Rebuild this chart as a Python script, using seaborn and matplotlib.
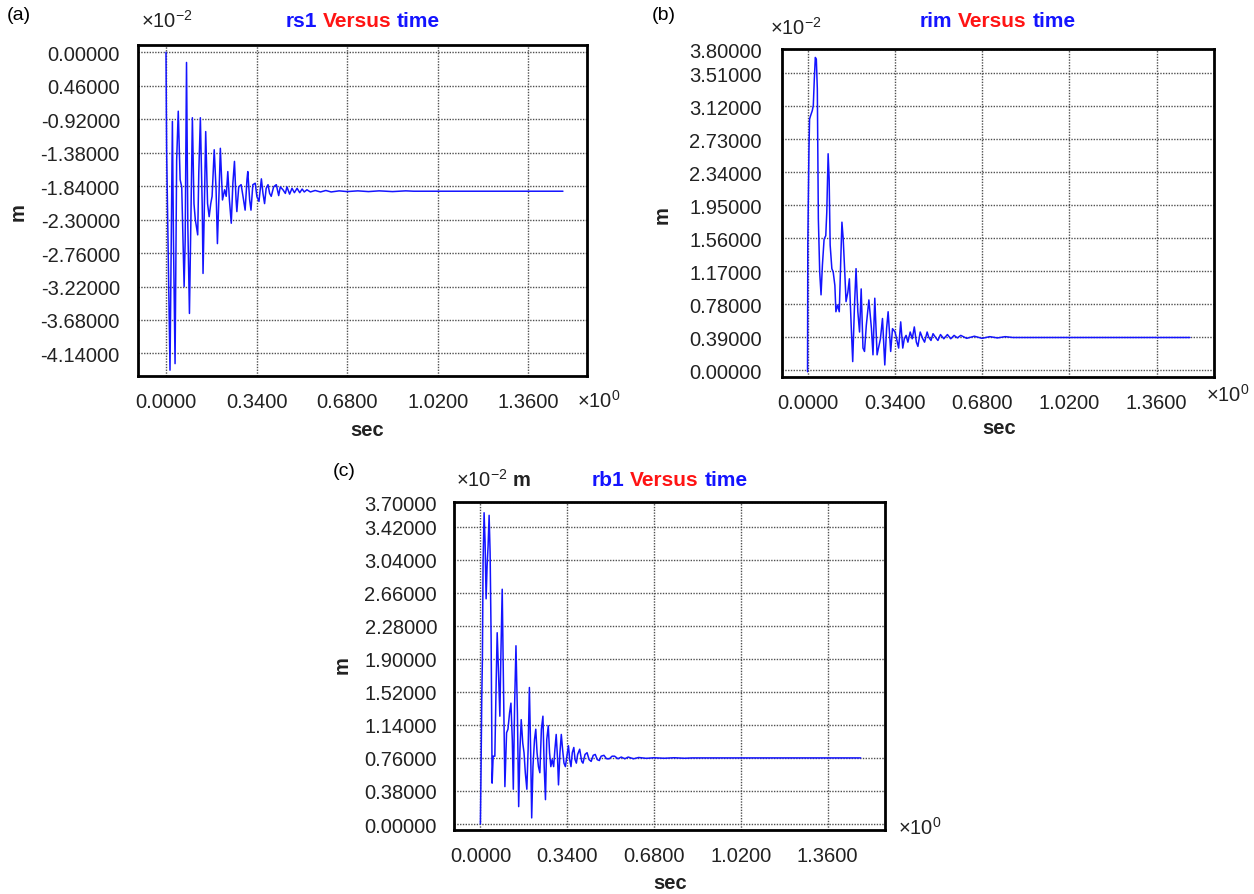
import matplotlib
matplotlib.use("Agg")
import matplotlib.pyplot as plt
import pandas as pd
import seaborn as sns

# ---------------- data ----------------
rs1_time = [0, 0.0013, 0.0025, 0.0075, 0.015, 0.024, 0.028, 0.034, 0.040, 0.046, 0.053, 0.059,
            0.068, 0.072, 0.077, 0.082, 0.088, 0.093, 0.099, 0.105, 0.110, 0.119, 0.123, 0.129,
            0.136, 0.139, 0.144, 0.149, 0.156, 0.162, 0.168, 0.173, 0.181, 0.188, 0.193, 0.199,
            0.204, 0.212, 0.220, 0.226, 0.232, 0.238, 0.245, 0.251, 0.257, 0.263, 0.266, 0.273,
            0.282, 0.289, 0.297, 0.304, 0.307, 0.314, 0.319, 0.326, 0.335, 0.341, 0.349, 0.358,
            0.364, 0.370, 0.376, 0.383, 0.389, 0.395, 0.404, 0.414, 0.423, 0.429, 0.439, 0.448,
            0.454, 0.464, 0.473, 0.482, 0.492, 0.502, 0.511, 0.519, 0.529, 0.542, 0.56, 0.58,
            0.60, 0.62, 0.65, 0.68, 0.72, 0.76, 0.80, 0.85, 0.90, 0.93, 1.49]
rs1_m = [0, -0.79, -1.39, -2.58, -4.37, -0.95, -2.58, -4.28, -1.48, -0.81, -1.75, -1.85,
         -3.22, -2.58, -0.14, -2.40, -3.59, -2.40, -0.90, -2.08, -2.30, -2.51, -1.66, -0.90,
         -2.12, -3.04, -2.12, -1.09, -2.08, -2.26, -2.08, -1.98, -1.34, -1.89, -2.63, -1.94,
         -1.32, -2.03, -1.89, -1.98, -1.64, -2.03, -2.35, -1.80, -1.50, -2.03, -2.19, -1.85,
         -1.82, -1.98, -2.17, -1.75, -1.64, -2.03, -2.17, -1.82, -1.80, -1.98, -2.05, -1.74,
         -1.94, -2.08, -1.87, -1.82, -1.94, -1.98, -1.85, -1.82, -1.97, -1.85, -1.89, -1.94,
         -1.85, -1.95, -1.87, -1.93, -1.87, -1.93, -1.88, -1.92, -1.89, -1.92, -1.90, -1.92,
         -1.90, -1.92, -1.905, -1.915, -1.905, -1.915, -1.905, -1.915, -1.905, -1.91, -1.91]

rim_time = [0, 0.001, 0.0053, 0.0079, 0.0118, 0.0184, 0.0224, 0.0263, 0.0303, 0.0342, 0.0381,
            0.0421, 0.0474, 0.0526, 0.0579, 0.0645, 0.0710, 0.0750, 0.0802, 0.0842, 0.0881,
            0.0947, 0.100, 0.1065, 0.1105, 0.117, 0.1236, 0.130, 0.134, 0.139, 0.145, 0.150,
            0.157, 0.163, 0.170, 0.176, 0.183, 0.189, 0.196, 0.2026, 0.209, 0.216, 0.222, 0.229,
            0.239, 0.249, 0.255, 0.262, 0.271, 0.284, 0.292, 0.301, 0.308, 0.314, 0.324, 0.331,
            0.341, 0.347, 0.355, 0.363, 0.371, 0.377, 0.384, 0.391, 0.400, 0.408, 0.416, 0.424,
            0.430, 0.439, 0.449, 0.456, 0.466, 0.472, 0.481, 0.489, 0.498, 0.508, 0.518, 0.531,
            0.545, 0.558, 0.571, 0.584, 0.597, 0.62, 0.65, 0.68, 0.71, 0.74, 0.77, 0.80, 1.49]
rim_m = [-0.02, 1.48, 2.58, 2.97, 3.01, 3.07, 3.13, 3.44, 3.70, 3.68, 3.33,
         1.79, 1.16, 0.89, 1.24, 1.55, 1.59, 1.87, 2.56, 2.26, 1.48,
         1.20, 1.16, 1.00, 0.69, 0.77, 0.69, 1.36, 1.75, 1.55, 1.16, 0.81,
         0.92, 1.08, 0.53, 0.10, 0.77, 1.20, 0.69, 0.45, 0.96, 0.26, 0.22, 0.53,
         0.83, 0.49, 0.18, 0.85, 0.18, 0.37, 0.61, 0.06, 0.49, 0.69, 0.22, 0.49,
         0.45, 0.37, 0.26, 0.57, 0.26, 0.37, 0.41, 0.33, 0.45, 0.37, 0.51, 0.33,
         0.28, 0.45, 0.37, 0.33, 0.45, 0.39, 0.35, 0.43, 0.39, 0.35, 0.42, 0.37,
         0.42, 0.37, 0.41, 0.38, 0.41, 0.375, 0.40, 0.375, 0.395, 0.38, 0.395, 0.385, 0.385]

rb1_time = [0, 0.0026, 0.0053, 0.0079, 0.0105, 0.0145, 0.0184, 0.0224, 0.0263, 0.0302, 0.0342,
            0.0381, 0.0421, 0.046, 0.050, 0.0566, 0.0618, 0.0658, 0.071, 0.0763, 0.0802, 0.0855,
            0.0894, 0.096, 0.1026, 0.108, 0.1144, 0.1197, 0.125, 0.129, 0.134, 0.1394, 0.145,
            0.150, 0.155, 0.160, 0.166, 0.171, 0.176, 0.182, 0.187, 0.192, 0.197, 0.201, 0.206,
            0.212, 0.217, 0.222, 0.2275, 0.233, 0.239, 0.245, 0.250, 0.255, 0.260, 0.266, 0.271,
            0.276, 0.281, 0.287, 0.292, 0.297, 0.3025, 0.306, 0.3117, 0.317, 0.322, 0.3275,
            0.333, 0.339, 0.345, 0.350, 0.355, 0.360, 0.366, 0.371, 0.376, 0.381, 0.389, 0.397,
            0.402, 0.410, 0.418, 0.426, 0.434, 0.442, 0.450, 0.458, 0.466, 0.473, 0.484, 0.4945,
            0.505, 0.516, 0.526, 0.539, 0.552, 0.566, 0.579, 0.60, 0.62, 0.65, 0.68, 0.72, 0.76,
            0.80, 0.83, 1.49]
rb1_m = [0, 0.63, 1.43, 1.89, 3.01, 3.58, 3.24, 2.59, 2.97, 3.20, 3.55,
         3.12, 2.12, 0.47, 0.78, 0.78, 1.63, 2.20, 1.74, 1.24, 1.93, 2.70,
         1.82, 0.43, 1.05, 1.09, 1.28, 1.39, 0.97, 0.40, 1.36, 2.05, 1.28,
         0.20, 0.86, 1.20, 0.93, 0.82, 0.59, 0.40, 0.86, 1.57, 0.82, 0.07, 0.66,
         0.97, 1.09, 0.82, 0.66, 0.59, 1.09, 1.24, 0.66, 0.28, 0.97, 1.13, 0.82,
         0.66, 0.74, 0.66, 0.86, 1.03, 0.74, 0.45, 0.82, 1.03, 0.86, 0.70,
         0.66, 0.78, 0.90, 0.74, 0.66, 0.82, 0.88, 0.74, 0.70, 0.80, 0.86, 0.72,
         0.70, 0.80, 0.82, 0.74, 0.72, 0.79, 0.80, 0.74, 0.73, 0.78, 0.79, 0.75,
         0.75, 0.78, 0.78, 0.75, 0.77, 0.75, 0.77, 0.75, 0.765, 0.755, 0.762, 0.756, 0.762,
         0.756, 0.76, 0.76]

x_ticks = [0.0, 0.34, 0.68, 1.02, 1.36]
x_tick_labels = ["0.0000", "0.3400", "0.6800", "1.0200", "1.3600"]

rs1_ticks = [0.0, -0.46, -0.92, -1.38, -1.84, -2.30, -2.76, -3.22, -3.68, -4.14]
rs1_tick_labels = ["0.00000", "0.46000", "-0.92000", "-1.38000", "-1.84000", "-2.30000",
                   "-2.76000", "-3.22000", "-3.68000", "-4.14000"]
rim_ticks = [0.0, 0.39, 0.78, 1.17, 1.56, 1.95, 2.34, 2.73, 3.12, 3.51, 3.80]
rim_tick_labels = ["0.00000", "0.39000", "0.78000", "1.17000", "1.56000", "1.95000",
                   "2.34000", "2.73000", "3.12000", "3.51000", "3.80000"]
rb1_ticks = [0.0, 0.38, 0.76, 1.14, 1.52, 1.90, 2.28, 2.66, 3.04, 3.42, 3.70]
rb1_tick_labels = ["0.00000", "0.38000", "0.76000", "1.14000", "1.52000", "1.90000",
                   "2.28000", "2.66000", "3.04000", "3.42000", "3.70000"]

# ---------------- style ----------------
sns.set_style("white")
plt.rcParams["font.family"] = ["Liberation Sans", "DejaVu Sans"]
plt.rcParams["mathtext.fontset"] = "custom"
plt.rcParams["mathtext.rm"] = "Liberation Sans"
plt.rcParams["mathtext.it"] = "Liberation Sans:italic"
plt.rcParams["mathtext.bf"] = "Liberation Sans:bold"
plt.rcParams["axes.unicode_minus"] = False

W, H = 1254, 895
fig = plt.figure(figsize=(W / 100, H / 100), dpi=100)


def fx(px):
    return px / W


def fy(py):
    return 1 - py / H


BLUE = "#1414ff"
RED = "#ff1414"
TXT = "#222222"

panels = [
    dict(t=rs1_time, v=rs1_m, name="rs1", letter="(a)",
         rect=[138.3, 46.0, 587.3, 377.0], xlim=(-0.104, 1.5815), ylim=(-4.45, 0.10),
         yt=rs1_ticks, ytl=rs1_tick_labels, ypad=13.3,
         letter_xy=(19, 16), exp_xy=(141.0, 28), exp_txt=r"$\times10^{-2}$",
         title_y=21.7, m_xy=(17.9, 211.7), sec_xy=(366.7, 431), x0_xy=(576.7, 408)),
    dict(t=rim_time, v=rim_m, name="rim", letter="(b)",
         rect=[781.7, 50.0, 1213.8, 377.7], xlim=(-0.1007, 1.583), ylim=(-0.079, 3.80),
         yt=rim_ticks, ytl=rim_tick_labels, ypad=14.5,
         letter_xy=(663.8, 16), exp_xy=(770, 35), exp_txt=r"$\times10^{-2}$",
         title_y=21.7, m_xy=(662.6, 215), sec_xy=(999, 428.3), x0_xy=(1205.5, 402)),
    dict(t=rb1_time, v=rb1_m, name="rb1", letter="(c)",
         rect=[454.2, 503.3, 885.2, 831.0], xlim=(-0.1026, 1.586), ylim=(-0.069, 3.70),
         yt=rb1_ticks, ytl=rb1_tick_labels, ypad=12.3,
         letter_xy=(343.9, 471.7), exp_xy=(456.2, 487), exp_txt=r"$\times10^{-2}$ $\mathbf{m}$",
         title_y=480.7, m_xy=(341.9, 665), sec_xy=(670, 884), x0_xy=(897.5, 835)),
]

renderer = fig.canvas.get_renderer()

for p in panels:
    l, t, r, b = p["rect"]
    ax = fig.add_axes([fx(l), fy(b), (r - l) / W, (b - t) / H])
    df = pd.DataFrame({"time": p["t"], "value": p["v"]})
    sns.lineplot(data=df, x="time", y="value", ax=ax, color=BLUE, lw=1.1,
                 estimator=None, sort=False, zorder=3)
    ax.set_xlim(*p["xlim"])
    ax.set_ylim(*p["ylim"])
    ax.set_xticks(x_ticks)
    ax.set_xticklabels(x_tick_labels)
    ax.set_yticks(p["yt"])
    ax.set_yticklabels(p["ytl"])
    ax.set_xlabel("")
    ax.set_ylabel("")
    ax.set_axisbelow(True)
    ax.grid(True, color="#505050", linestyle=(0, (1, 1)), lw=1.0)
    ax.tick_params(axis="both", length=0, labelsize=14.5, colors=TXT)
    ax.tick_params(axis="x", pad=11.8)
    ax.tick_params(axis="y", pad=p["ypad"])
    for s in ax.spines.values():
        s.set_visible(True)
        s.set_linewidth(2.0)
        s.set_color("black")

    # panel letter
    fig.text(fx(p["letter_xy"][0]), fy(p["letter_xy"][1]), p["letter"], fontsize=14,
             ha="center", va="center", color="black")
    # exponents
    fig.text(fx(p["exp_xy"][0]), fy(p["exp_xy"][1]), p["exp_txt"], fontsize=14.5,
             ha="left", va="baseline", color=TXT)
    fig.text(fx(p["x0_xy"][0]), fy(p["x0_xy"][1]), r"$\times10^{0}$", fontsize=14.5,
             ha="left", va="baseline", color=TXT)
    # axis labels
    fig.text(fx(p["m_xy"][0]), fy(p["m_xy"][1]), "m", fontsize=14.5, fontweight="bold",
             rotation=90, ha="center", va="center", color=TXT)
    fig.text(fx(p["sec_xy"][0]), fy(p["sec_xy"][1]), "sec", fontsize=14.5, fontweight="bold",
             ha="center", va="center", color=TXT)

    # coloured title
    parts = [(p["name"], BLUE), ("Versus", RED), ("time", BLUE)]
    size = 15
    gap = 0.278 * size * 100 / 72
    objs, widths = [], []
    for s, c in parts:
        o = fig.text(0, fy(p["title_y"]), s, color=c, fontsize=size, fontweight="bold",
                     ha="left", va="center")
        objs.append(o)
        widths.append(o.get_window_extent(renderer).width)
    total = sum(widths) + gap * (len(parts) - 1)
    x = (l + r) / 2 - total / 2
    for o, w in zip(objs, widths):
        o.set_x(fx(x))
        x += w + gap

fig.savefig("out.png", dpi=100, facecolor="white")
